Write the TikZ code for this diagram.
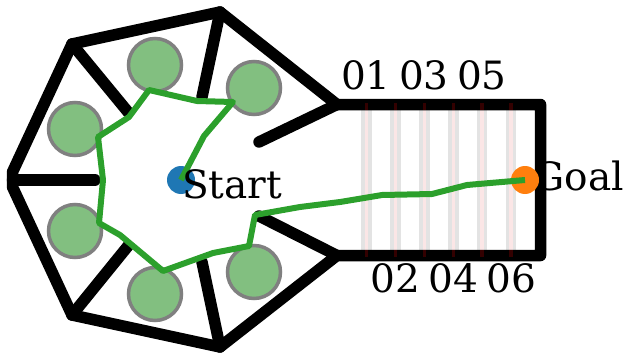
\documentclass[tikz,border=0pt]{standalone}
\usepackage{fontspec}
\setmainfont{DejaVu Serif}
\definecolor{tgreen}{HTML}{2CA02C}
\definecolor{tblue}{HTML}{1F77B4}
\definecolor{torange}{HTML}{FF7F0E}
\definecolor{cfill}{HTML}{82BF80}
\definecolor{bandgrey}{HTML}{E3E3E3}
\definecolor{gatepink}{HTML}{FBE6E6}
\definecolor{gatedark}{HTML}{330000}
\tikzset{
  wall/.style={line width=11.5pt,line cap=round,line join=round,black},
  band/.style={line width=10.5pt,bandgrey},
  gate/.style={line width=3.5pt,gatepink},
  gateend/.style={line width=3.5pt,gatedark},
  keypt/.style={circle,draw=black!50,line width=3.5pt,fill=cfill,minimum size=53pt,inner sep=0},
  endpt/.style={circle,minimum size=28pt,inner sep=0},
  route/.style={line width=6pt,tgreen,line join=round},
  lab/.style={font=\fontsize{39}{39}\selectfont,anchor=base,inner sep=0},
  wordlab/.style={font=\fontsize{39}{39}\selectfont,anchor=base west,inner sep=0}
}
\begin{document}
\begin{tikzpicture}[x=1pt,y=-1pt]
\useasboundingbox (0,0) rectangle (624,353);
\foreach \x in {366.5,395.5,424.5,453.5,482,511}{
  \draw[band] (\x,104) -- (\x,255);
  \draw[gate] (\x,104) -- (\x,255);
}
\node[wordlab] (gl) at (533.5,190) {Goal};
\draw[wall] (220,12) -- (72,44) -- (12.5,172) -- (12.5,187) -- (72,315) -- (220,347) -- (337,255.5) -- (540.5,255.5) -- (540.5,104.5) -- (337,104.5) -- cycle;
\draw[wall] (72,44) -- (128,112);
\draw[wall] (220,12) -- (202,97);
\draw[wall] (12.5,180) -- (95,180);
\draw[wall] (72,315) -- (128,246);
\draw[wall] (220,347) -- (202,262);
\draw[wall] (337,104.5) -- (259,142);
\draw[wall] (337,255.5) -- (259,216);
\foreach \x in {366.5,395.5,424.5,453.5,482,511}{
  \draw[gateend] (\x,103) -- (\x,110);
  \draw[gateend] (\x,250) -- (\x,257);
}
\node[keypt] (k1) at (155,65) {};
\node[keypt] (k2) at (254,88) {};
\node[keypt] (k3) at (75,129) {};
\node[keypt] (k4) at (75,231) {};
\node[keypt] (k5) at (155,294) {};
\node[keypt] (k6) at (254,272) {};
\node[endpt,fill=tblue] (s) at (181,180) {};
\node[endpt,fill=torange] (g) at (525,180) {};
\draw[route] (s.center) -- (204,136) -- (233,102) -- (197,101) -- (149,90) -- (129,117) -- (98,137) -- (103,180) -- (99,223) -- (120,235) -- (163,271) -- (213,253) -- (249,246) -- (255,215) -- (300,207) -- (340,202) -- (382,195) -- (432,194) -- (467,185) -- (g.center);
\node[wordlab] (st) at (182,198) {Start};
\node[lab] (n1) at (366,89) {01};
\node[lab] (n3) at (424,89) {03};
\node[lab] (n5) at (482,89) {05};
\node[lab] (n2) at (395.5,292) {02};
\node[lab] (n4) at (453.5,292) {04};
\node[lab] (n6) at (511.5,292) {06};
\end{tikzpicture}
\end{document}
